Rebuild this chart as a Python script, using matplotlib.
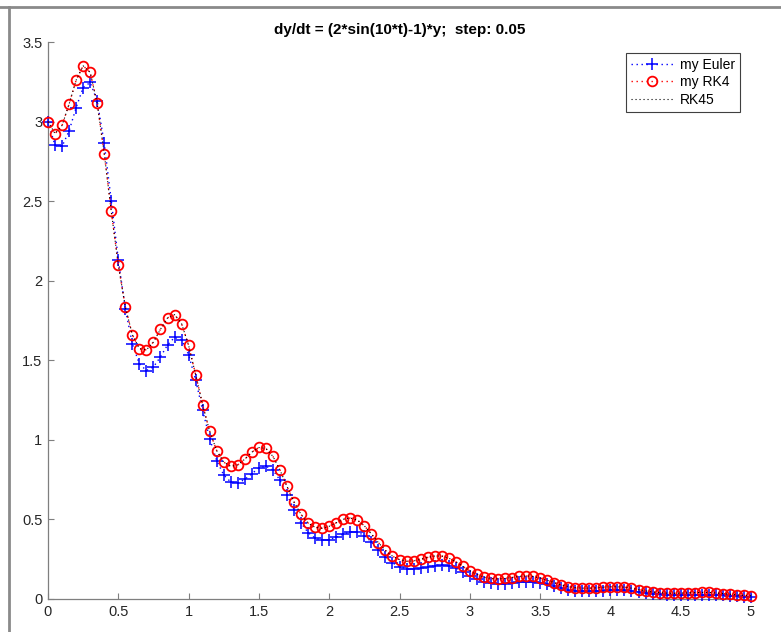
import numpy as np
import matplotlib
matplotlib.use("Agg")
import matplotlib.pyplot as plt
from matplotlib.lines import Line2D

# Time grid, step 0.05 on [0, 5]
step = 0.05
t = np.round(np.arange(101) * step, 2)

euler_y = [3.0, 2.85, 2.8441, 2.9412, 3.0875, 3.2139, 3.2456, 3.1291, 2.8629, 2.5031,
           2.1333, 1.8221, 1.6024, 1.4775, 1.4354, 1.4579, 1.5218, 1.5963, 1.6439, 1.6295,
           1.5358, 1.3755, 1.1857, 1.0078, 0.8692, 0.7791, 0.7350, 0.7291, 0.7513, 0.7882,
           0.8225, 0.8349, 0.8104, 0.7465, 0.6561, 0.5602, 0.4773, 0.4176, 0.3824, 0.3690,
           0.3729, 0.3883, 0.4076, 0.4213, 0.4201, 0.3987, 0.3593, 0.3109, 0.2643, 0.2272,
           0.2024, 0.1896, 0.1869, 0.1918, 0.2010, 0.2102, 0.2144, 0.2095, 0.1943, 0.1717,
           0.1470, 0.1251, 0.1089, 0.0991, 0.0950, 0.0955, 0.0991, 0.1041, 0.1080, 0.1083,
           0.1035, 0.0939, 0.0816, 0.0694, 0.0595, 0.0527, 0.0490, 0.0480, 0.0490, 0.0513,
           0.0538, 0.0551, 0.0542, 0.0506, 0.0450, 0.0386, 0.0328, 0.0284, 0.0257, 0.0245,
           0.0245, 0.0254, 0.0267, 0.0278, 0.0280, 0.0269, 0.0246, 0.0215, 0.0183, 0.0156,
           0.0138]

rk4_y = [3.000, 2.924, 2.976, 3.110, 3.260, 3.350, 3.309, 3.114, 2.799, 2.437,
         2.100, 1.835, 1.660, 1.573, 1.565, 1.615, 1.695, 1.766, 1.787, 1.730,
         1.594, 1.410, 1.219, 1.053, 0.932, 0.860, 0.833, 0.843, 0.879, 0.923,
         0.952, 0.946, 0.896, 0.810, 0.707, 0.609, 0.531, 0.477, 0.450, 0.445,
         0.457, 0.479, 0.501, 0.509, 0.496, 0.460, 0.409, 0.354, 0.305, 0.269,
         0.247, 0.237, 0.239, 0.249, 0.261, 0.270, 0.270, 0.257, 0.234, 0.205,
         0.177, 0.154, 0.137, 0.129, 0.126, 0.129, 0.135, 0.142, 0.145, 0.142,
         0.132, 0.118, 0.103, 0.088, 0.078, 0.071, 0.068, 0.068, 0.070, 0.074,
         0.077, 0.077, 0.074, 0.068, 0.059, 0.051, 0.044, 0.040, 0.037, 0.036,
         0.037, 0.038, 0.040, 0.041, 0.041, 0.038, 0.034, 0.030, 0.026, 0.022,
         0.020]

rk45_y = [3.000, 2.924, 2.976, 3.110, 3.260, 3.350, 3.309, 3.114, 2.799, 2.437,
          2.100, 1.835, 1.660, 1.573, 1.565, 1.615, 1.695, 1.766, 1.787, 1.730,
          1.594, 1.410, 1.219, 1.053, 0.932, 0.860, 0.833, 0.843, 0.879, 0.923,
          0.952, 0.946, 0.896, 0.810, 0.707, 0.609, 0.531, 0.477, 0.450, 0.445,
          0.457, 0.479, 0.501, 0.509, 0.496, 0.460, 0.409, 0.354, 0.305, 0.269,
          0.247, 0.237, 0.239, 0.249, 0.261, 0.270, 0.270, 0.257, 0.234, 0.205,
          0.177, 0.154, 0.137, 0.129, 0.126, 0.129, 0.135, 0.142, 0.145, 0.142,
          0.132, 0.118, 0.103, 0.088, 0.078, 0.071, 0.068, 0.068, 0.070, 0.074,
          0.077, 0.077, 0.074, 0.068, 0.059, 0.051, 0.044, 0.040, 0.037, 0.036,
          0.037, 0.038, 0.040, 0.041, 0.041, 0.038, 0.034, 0.030, 0.026, 0.022,
          0.020]

series_labels = ["my Euler", "my RK4", "RK45"]
x_ticks = [0, 0.5, 1, 1.5, 2, 2.5, 3, 3.5, 4, 4.5, 5]
y_ticks = [0, 0.5, 1, 1.5, 2, 2.5, 3, 3.5]
title = "dy/dt = (2*sin(10*t)-1)*y;  step: 0.05"

plt.rcParams["font.family"] = ["Liberation Sans", "DejaVu Sans"]

fig = plt.figure(figsize=(7.81, 6.32), dpi=100, facecolor="white")
ax = fig.add_axes([48 / 781, 1 - 599 / 632, (751 - 48) / 781, (599 - 42) / 632])

dotted = (0, (1, 2.6))

ax.plot(t, euler_y, linestyle=dotted, color="#0000ff", linewidth=1.0,
        marker="+", markersize=8, markeredgewidth=1.1, clip_on=False,
        label=series_labels[0], zorder=3)
ax.plot(t, rk4_y, linestyle=dotted, color="#ff0000", linewidth=1.0,
        marker="o", markersize=7, markerfacecolor="none", markeredgewidth=1.3,
        clip_on=False, label=series_labels[1], zorder=4)
ax.plot(t, rk45_y, linestyle=dotted, color="black", linewidth=0.8,
        clip_on=False, label=series_labels[2], zorder=5)

ax.set_xlim(0, 5)
ax.set_ylim(0, 3.5)
ax.set_xticks(x_ticks)
ax.set_xticklabels([f"{v:g}" for v in x_ticks])
ax.set_yticks(y_ticks)
ax.set_yticklabels([f"{v:g}" for v in y_ticks])

for side in ("top", "right"):
    ax.spines[side].set_visible(False)
for side in ("left", "bottom"):
    ax.spines[side].set_color("#7f7f7f")
    ax.spines[side].set_linewidth(0.9)
ax.tick_params(direction="in", length=4.5, width=0.8, color="#7f7f7f",
               labelsize=10.5, labelcolor="#262626", pad=4)

ax.set_title(title, fontsize=11, fontweight="bold", color="black", pad=6)

leg = ax.legend(loc="upper right", bbox_to_anchor=(740 / 781, 1 - 53 / 632),
                bbox_transform=fig.transFigure, fontsize=10, frameon=True,
                fancybox=False, framealpha=1, edgecolor="#404040",
                handlelength=3.1, handletextpad=0.45, labelspacing=0.25,
                borderpad=0.35, borderaxespad=0)
leg.get_frame().set_linewidth(0.8)

# Window frame edges along the top and left
fig.add_artist(Line2D([0, 1], [1 - 7 / 632, 1 - 7 / 632], transform=fig.transFigure,
                      color="#8a8a8a", linewidth=2))
fig.add_artist(Line2D([9 / 781, 9 / 781], [0, 1 - 7 / 632], transform=fig.transFigure,
                      color="#8a8a8a", linewidth=2))

fig.savefig("out.png", dpi=100, facecolor="white")
